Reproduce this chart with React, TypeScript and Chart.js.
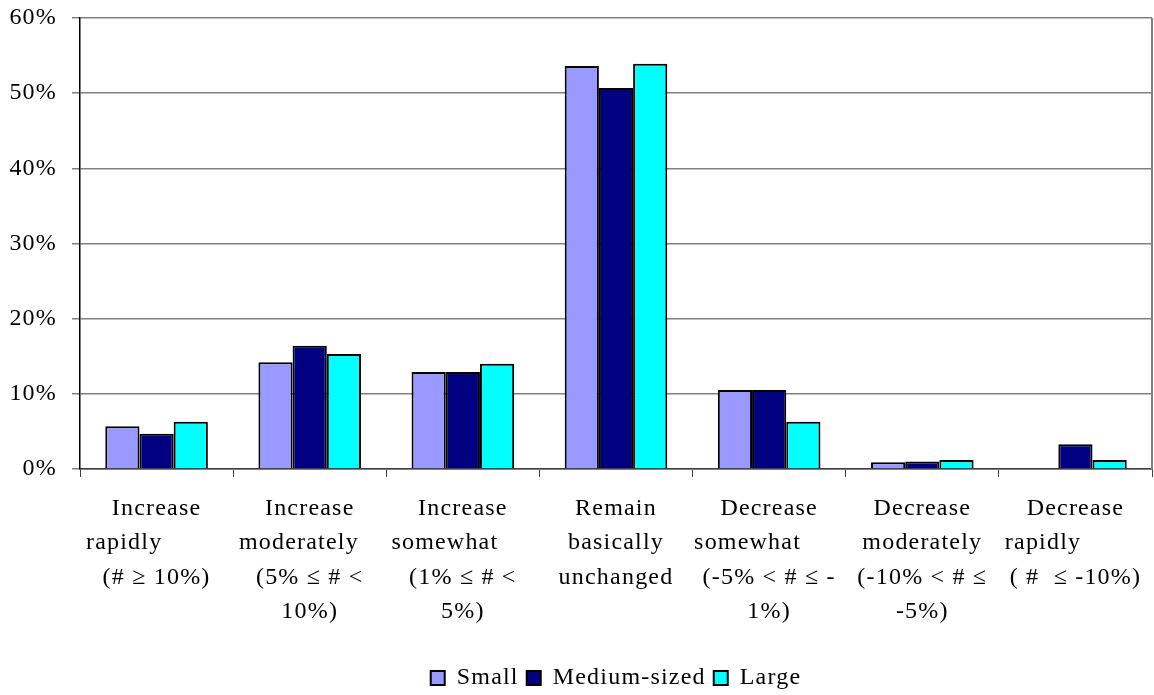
import React, { useEffect, useRef } from 'react';
import { Chart, registerables } from 'chart.js';

Chart.register(...registerables);

const categories: string[][] = [
  ['Increase', 'rapidly         ', '(# \u2265 10%)'],
  ['Increase', 'moderately   ', '(5% \u2264 # <', '10%)'],
  ['Increase', 'somewhat     ', '(1% \u2264 # <', '5%)'],
  ['Remain', 'basically', 'unchanged'],
  ['Decrease', 'somewhat      ', '(-5% < # \u2264 -', '1%)'],
  ['Decrease', 'moderately', '(-10% < # \u2264', '-5%)'],
  ['Decrease', 'rapidly         ', '( #  \u2264 -10%)'],
];

const seriesNames = ['Small', 'Medium-sized', 'Large'];
const smallValues = [5.7, 14.2, 12.9, 53.6, 10.5, 0.9, 0];
const mediumValues = [4.7, 16.4, 12.9, 50.7, 10.5, 1.0, 3.3];
const largeValues = [6.3, 15.3, 14.0, 53.9, 6.3, 1.2, 1.2];
const seriesColors = ['#9999FF', '#000080', '#00FFFF'];

const yMax = 60;
const yStep = 10;

const FONT = "'Liberation Serif', 'Times New Roman', serif";

const spacingPlugin = {
  id: 'spacingAndBorder',
  beforeUpdate(chart: any) {
    chart.ctx.letterSpacing = '1.2px';
  },
  beforeLayout(chart: any) {
    chart.ctx.letterSpacing = '1.2px';
  },
  beforeDraw(chart: any) {
    chart.ctx.letterSpacing = '1.2px';
  },
  afterDraw(chart: any) {
    const { ctx, chartArea } = chart;
    ctx.save();
    ctx.strokeStyle = '#808080';
    ctx.lineWidth = 2;
    ctx.beginPath();
    ctx.moveTo(chartArea.right, chartArea.top);
    ctx.lineTo(chartArea.right, chartArea.bottom);
    ctx.stroke();
    ctx.restore();
  },
};

export default function App() {
  const canvasRef = useRef<HTMLCanvasElement>(null);

  useEffect(() => {
    if (!canvasRef.current) return;
    const values = [smallValues, mediumValues, largeValues];
    const chart = new Chart(canvasRef.current, {
      type: 'bar',
      data: {
        labels: categories,
        datasets: seriesNames.map((name, i) => ({
          label: name,
          data: values[i],
          backgroundColor: seriesColors[i],
          borderColor: '#000000',
          borderWidth: 2,
          categoryPercentage: 0.67,
          barPercentage: 1.0,
        })),
      },
      options: {
        animation: false,
        responsive: true,
        maintainAspectRatio: false,
        layout: { padding: { top: 18, right: 2, left: 0, bottom: 0 } },
        plugins: {
          tooltip: { enabled: false },
          legend: {
            position: 'bottom',
            fullSize: false,
            labels: {
              boxWidth: 14,
              boxHeight: 14,
              padding: 8,
              color: '#000000',
              font: { family: FONT, size: 24 },
            },
          },
        },
        scales: {
          x: {
            grid: {
              display: true,
              drawOnChartArea: false,
              drawTicks: true,
              tickLength: 8,
              color: '#404040',
              lineWidth: 1,
              offset: true,
            },
            border: { display: true, color: '#404040', width: 1.5 },
            ticks: {
              autoSkip: false,
              maxRotation: 0,
              minRotation: 0,
              padding: 14,
              color: '#000000',
              font: { family: FONT, size: 24, lineHeight: 1.44 },
            },
            afterFit(scale: any) {
              scale.height = 189;
              scale.paddingLeft = 0;
              scale.paddingRight = 0;
            },
          },
          y: {
            min: 0,
            max: yMax,
            grid: {
              color: '#808080',
              lineWidth: 1.5,
              tickLength: 8,
              drawTicks: true,
            },
            border: { display: true, color: '#000000', width: 1.5 },
            ticks: {
              stepSize: yStep,
              padding: 15,
              color: '#000000',
              font: { family: FONT, size: 24 },
              callback: (v: any) => v + '%',
            },
            afterFit(scale: any) {
              scale.width = 80;
              scale.paddingTop = 0;
              scale.paddingBottom = 0;
            },
          },
        },
      },
      plugins: [spacingPlugin],
    });
    return () => chart.destroy();
  }, []);

  return (
    <div style={{ position: 'fixed', left: 0, top: 0, width: 1154, height: 700, background: '#ffffff' }}>
      <canvas ref={canvasRef} />
    </div>
  );
}
